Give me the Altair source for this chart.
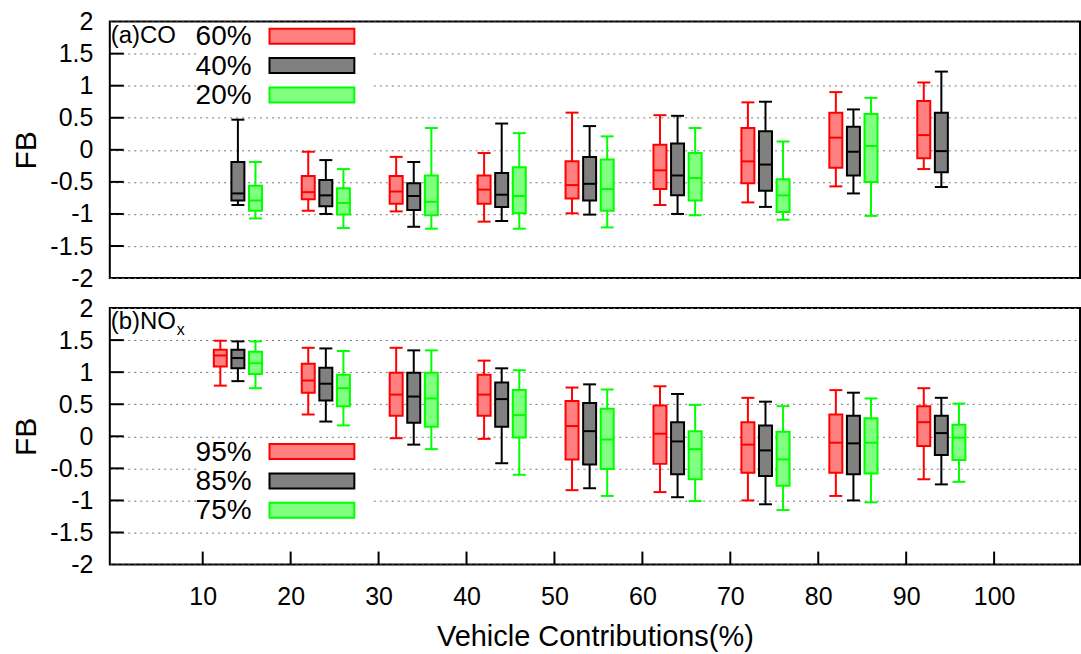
import altair as alt
import pandas as pd

FONT = "Liberation Sans"

groups = [10, 20, 30, 40, 50, 60, 70, 80, 90]
x_ticks = [10, 20, 30, 40, 50, 60, 70, 80, 90, 100]
y_ticks = [-2, -1.5, -1, -0.5, 0, 0.5, 1, 1.5, 2]
inner_y_ticks = [-1.5, -1, -0.5, 0, 0.5, 1, 1.5]

# (a) CO : 60% (red), 40% (black), 20% (green)
co60_lo = [None, -0.95, -0.96, -1.12, -0.99, -0.86, -0.82, -0.57, -0.30]
co60_q1 = [None, -0.77, -0.84, -0.84, -0.76, -0.61, -0.52, -0.28, -0.13]
co60_med = [None, -0.66, -0.65, -0.62, -0.55, -0.32, -0.18, 0.19, 0.23]
co60_q3 = [None, -0.41, -0.41, -0.40, -0.18, 0.08, 0.34, 0.58, 0.76]
co60_hi = [None, -0.03, -0.11, -0.05, 0.58, 0.54, 0.74, 0.90, 1.05]

co40_lo = [-0.86, -1.00, -1.20, -1.11, -1.01, -1.00, -0.89, -0.68, -0.58]
co40_q1 = [-0.79, -0.88, -0.94, -0.89, -0.79, -0.71, -0.64, -0.40, -0.35]
co40_med = [-0.68, -0.71, -0.72, -0.70, -0.53, -0.40, -0.23, -0.03, -0.02]
co40_q3 = [-0.19, -0.47, -0.52, -0.36, -0.11, 0.10, 0.29, 0.36, 0.58]
co40_hi = [0.47, -0.16, -0.19, 0.41, 0.37, 0.53, 0.75, 0.63, 1.22]

co20_lo = [-1.07, -1.22, -1.23, -1.23, -1.21, -1.02, -1.09, -1.03, None]
co20_q1 = [-0.95, -1.01, -1.02, -0.99, -0.95, -0.79, -0.97, -0.50, None]
co20_med = [-0.79, -0.83, -0.81, -0.72, -0.61, -0.44, -0.71, 0.06, None]
co20_q3 = [-0.56, -0.60, -0.40, -0.27, -0.15, -0.05, -0.46, 0.56, None]
co20_hi = [-0.19, -0.30, 0.34, 0.26, 0.21, 0.34, 0.13, 0.81, None]

# (b) NOx : 95% (red), 85% (black), 75% (green)
nx95_lo = [0.79, 0.34, -0.03, -0.04, -0.84, -0.87, -1.00, -0.93, -0.67]
nx95_q1 = [1.09, 0.68, 0.32, 0.32, -0.36, -0.43, -0.57, -0.57, -0.15]
nx95_med = [1.26, 0.87, 0.65, 0.65, 0.16, 0.04, -0.13, -0.10, 0.22]
nx95_q3 = [1.35, 1.13, 0.99, 0.96, 0.55, 0.48, 0.22, 0.34, 0.47]
nx95_hi = [1.49, 1.38, 1.38, 1.18, 0.76, 0.78, 0.60, 0.72, 0.75]

nx85_lo = [0.86, 0.23, -0.13, -0.42, -0.81, -0.95, -1.06, -1.00, -0.75]
nx85_q1 = [1.06, 0.56, 0.21, 0.15, -0.44, -0.59, -0.62, -0.59, -0.29]
nx85_med = [1.22, 0.82, 0.62, 0.58, 0.08, -0.08, -0.22, -0.11, 0.05]
nx85_q3 = [1.35, 1.07, 0.99, 0.84, 0.52, 0.22, 0.17, 0.32, 0.32]
nx85_hi = [1.48, 1.37, 1.34, 1.06, 0.81, 0.66, 0.54, 0.68, 0.60]

nx75_lo = [0.75, 0.17, -0.20, -0.60, -0.93, -1.01, -1.15, -1.03, -0.71]
nx75_q1 = [0.97, 0.47, 0.15, -0.02, -0.51, -0.67, -0.77, -0.58, -0.37]
nx75_med = [1.14, 0.75, 0.59, 0.33, -0.05, -0.20, -0.36, -0.10, -0.02]
nx75_q3 = [1.32, 0.96, 0.99, 0.72, 0.43, 0.08, 0.07, 0.28, 0.18]
nx75_hi = [1.48, 1.33, 1.34, 1.03, 0.73, 0.49, 0.47, 0.59, 0.51]

STROKES = ["#ff0000", "#000000", "#00ff00"]
FILLS = ["#ff8080", "#808080", "#80ff80"]
OFFSETS = [2, 4, 6]

W = 972
H = 257

xscale = alt.Scale(domain=[0, 109.2], nice=False, zero=False)
yscale = alt.Scale(domain=[-2, 2], nice=False, zero=False)


def y_axis():
    return alt.Axis(values=y_ticks, labelExpr="toString(datum.value)", title="FB",
                    ticks=False, tickSize=0, domain=False, grid=True,
                    gridDash=[2, 4], gridColor="#777777", gridWidth=1,
                    labelFontSize=25, labelPadding=17, labelFont=FONT,
                    labelColor="black", titleFont=FONT, titleFontSize=30,
                    titleFontWeight="normal", titleColor="black", titlePadding=8)


def x_axis(show):
    if not show:
        return None
    return alt.Axis(values=x_ticks, labelExpr="toString(datum.value)",
                    title="Vehicle Contributions(%)", ticks=False, tickSize=0,
                    domain=False, grid=False, labelFontSize=25, labelPadding=20,
                    labelFont=FONT, labelColor="black", titleFont=FONT,
                    titleFontSize=29, titleFontWeight="normal", titleColor="black",
                    titlePadding=13, labelFlush=False)


def panel(series, legend_labels, label_parts, legend_top, show_x):
    xa = x_axis(show_x)
    layers = []
    # legend background (interrupts gridlines as in the original)
    layers.append(alt.Chart(pd.DataFrame({"d": [0]})).mark_rect(fill="white").encode(
        x=alt.value(89), x2=alt.value(262),
        y=alt.value(legend_top - 12), y2=alt.value(legend_top + 71)))
    # inward y ticks
    layers.append(alt.Chart(pd.DataFrame({"v": inner_y_ticks})).mark_rule(
        color="black", strokeWidth=2).encode(
        y=alt.Y("v:Q", scale=yscale, axis=y_axis()),
        x=alt.value(0), x2=alt.value(14)))
    if show_x:
        layers.append(alt.Chart(pd.DataFrame({"v": x_ticks})).mark_rule(
            color="black", strokeWidth=2).encode(
            x=alt.X("v:Q", scale=xscale, axis=xa),
            y=alt.value(H), y2=alt.value(H - 13)))
    for i, (lo, q1, med, q3, hi) in enumerate(series):
        df = pd.DataFrame({"g": groups, "lo": lo, "q1": q1, "med": med,
                           "q3": q3, "hi": hi}).dropna()
        df["pos"] = df["g"] + OFFSETS[i]
        base = alt.Chart(df).encode(x=alt.X("pos:Q", scale=xscale, axis=xa))
        layers.append(base.mark_rule(color=STROKES[i], strokeWidth=2).encode(
            y=alt.Y("lo:Q", scale=yscale, axis=y_axis()), y2="hi:Q"))
        layers.append(base.mark_bar(size=13, fill=FILLS[i], stroke=STROKES[i],
                                    strokeWidth=2).encode(
            y=alt.Y("q1:Q", scale=yscale, axis=y_axis()), y2="q3:Q"))
        for col in ("med", "lo", "hi"):
            layers.append(base.mark_tick(orient="horizontal", size=13, thickness=2,
                                         color=STROKES[i], opacity=1).encode(
                y=alt.Y(f"{col}:Q", scale=yscale, axis=y_axis())))
    # custom legend (labels left of the swatches)
    for i, lab in enumerate(legend_labels):
        c = legend_top + i * 29.4
        layers.append(alt.Chart(pd.DataFrame({"d": [0]})).mark_text(
            text=lab, align="right", baseline="middle", font=FONT, fontSize=28,
            color="black").encode(x=alt.value(142), y=alt.value(c + 1)))
        layers.append(alt.Chart(pd.DataFrame({"d": [0]})).mark_rect(
            fill=FILLS[i], stroke=STROKES[i], strokeWidth=2).encode(
            x=alt.value(160), x2=alt.value(245), y=alt.value(c - 7.5),
            y2=alt.value(c + 7.5)))
    # panel label
    main, sub = label_parts
    layers.append(alt.Chart(pd.DataFrame({"d": [0]})).mark_text(
        text=main, align="left", baseline="middle", font=FONT, fontSize=24,
        color="black").encode(x=alt.value(1), y=alt.value(14)))
    if sub:
        layers.append(alt.Chart(pd.DataFrame({"d": [0]})).mark_text(
            text=sub, align="left", baseline="middle", font=FONT, fontSize=16,
            color="black").encode(x=alt.value(67), y=alt.value(22)))
    return alt.layer(*layers).properties(width=W, height=H)


top = panel(
    [(co60_lo, co60_q1, co60_med, co60_q3, co60_hi),
     (co40_lo, co40_q1, co40_med, co40_q3, co40_hi),
     (co20_lo, co20_q1, co20_med, co20_q3, co20_hi)],
    ["60%", "40%", "20%"], ("(a)CO", None), 14.7, False)

bottom = panel(
    [(nx95_lo, nx95_q1, nx95_med, nx95_q3, nx95_hi),
     (nx85_lo, nx85_q1, nx85_med, nx85_q3, nx85_hi),
     (nx75_lo, nx75_q1, nx75_med, nx75_q3, nx75_hi)],
    ["95%", "85%", "75%"], ("(b)NO", "x"), 143.8, True)

chart = alt.vconcat(top, bottom, spacing=30, bounds="flush").properties(
    padding={"left": 10, "top": 8, "right": 0, "bottom": 0},
    background="white",
).configure_view(stroke="black", strokeWidth=2).configure_concat(spacing=30)

chart.save("out.html", embed_options={"renderer": "svg", "actions": False})
